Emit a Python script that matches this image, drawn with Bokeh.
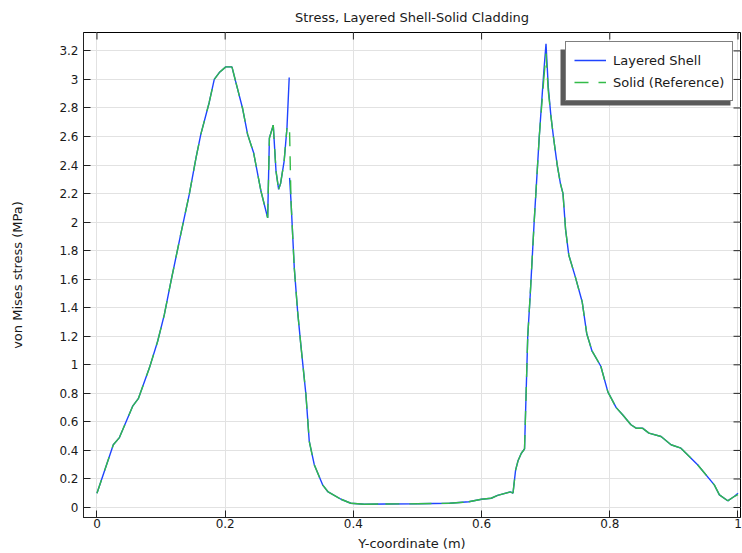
import numpy as np
from bokeh.plotting import figure
from bokeh.models import (Range1d, FixedTicker, Legend, LegendItem,
                          BoxAnnotation, ColumnDataSource)
from bokeh.embed import file_html
from bokeh.resources import INLINE

# von Mises stress along the Y-coordinate (m), in MPa
x_shell = [0.0, 0.0255, 0.035, 0.0557, 0.0645, 0.0817, 0.0947, 0.105, 0.1155, 0.13,
           0.144, 0.1545, 0.162, 0.175, 0.183, 0.1908, 0.201, 0.2106, 0.2168, 0.227,
           0.235, 0.2444, 0.2558, 0.2663, 0.269, 0.275, 0.2793, 0.2834, 0.2864, 0.292,
           0.2964, 0.2999, np.nan,
           0.3005, 0.3027, 0.3078, 0.313, 0.318, 0.326, 0.3312, 0.339, 0.352, 0.36,
           0.3807, 0.396, 0.417, 0.45, 0.5, 0.55, 0.58, 0.6, 0.615, 0.625, 0.645,
           0.649, 0.653, 0.657, 0.662, 0.667, 0.672, 0.676, 0.682, 0.69, 0.697, 0.7005,
           0.704, 0.708, 0.712, 0.718, 0.723, 0.727, 0.731, 0.736, 0.746, 0.757, 0.764,
           0.772, 0.786, 0.797, 0.81, 0.82, 0.833, 0.841, 0.851, 0.861, 0.88, 0.8955,
           0.911, 0.937, 0.963, 0.971, 0.984, 0.994, 1.0]
y_shell = [0.10, 0.44, 0.49, 0.71, 0.763, 0.977, 1.165, 1.35, 1.586, 1.90,
           2.194, 2.451, 2.615, 2.837, 3.0, 3.048, 3.088, 3.088, 2.978, 2.80,
           2.615, 2.486, 2.218, 2.03, 2.59, 2.68, 2.358, 2.23, 2.27, 2.428,
           2.66, 3.013, np.nan,
           2.31, 2.147, 1.68, 1.375, 1.142, 0.79, 0.463, 0.30, 0.159, 0.112,
           0.058, 0.030, 0.023, 0.025, 0.026, 0.030, 0.040, 0.058, 0.065, 0.085, 0.11,
           0.10, 0.26, 0.33, 0.38, 0.41, 1.20, 1.50, 2.00, 2.60, 3.05, 3.25,
           2.95, 2.75, 2.60, 2.40, 2.27, 2.20, 1.95, 1.77, 1.62, 1.44, 1.22,
           1.10, 0.99, 0.81, 0.70, 0.65, 0.58, 0.556, 0.556, 0.521, 0.498, 0.44,
           0.416, 0.30, 0.159, 0.089, 0.047, 0.077, 0.10]

x_solid = [0.0, 0.0255, 0.035, 0.0557, 0.0645, 0.0817, 0.0947, 0.105, 0.1155, 0.13,
           0.144, 0.1545, 0.162, 0.175, 0.183, 0.1908, 0.201, 0.2106, 0.2168, 0.227,
           0.235, 0.2444, 0.2558, 0.2663, 0.269, 0.275, 0.2793, 0.2834, 0.2864, 0.292,
           0.2964, np.nan,
           0.3005, 0.3027, 0.3078, 0.313, 0.318, 0.326, 0.3312, 0.339, 0.352, 0.36,
           0.3807, 0.396, 0.417, 0.45, 0.5, 0.55, 0.58, 0.6, 0.615, 0.625, 0.645,
           0.649, 0.653, 0.657, 0.662, 0.667, 0.672, 0.676, 0.682, 0.69, 0.697, 0.7005,
           0.704, 0.708, 0.712, 0.718, 0.723, 0.727, 0.731, 0.736, 0.746, 0.757, 0.764,
           0.772, 0.786, 0.797, 0.81, 0.82, 0.833, 0.841, 0.851, 0.861, 0.88, 0.8955,
           0.911, 0.937, 0.963, 0.971, 0.984, 0.994, 1.0]
y_solid = [0.10, 0.44, 0.49, 0.71, 0.763, 0.977, 1.165, 1.35, 1.586, 1.90,
           2.194, 2.451, 2.615, 2.837, 3.0, 3.048, 3.088, 3.088, 2.978, 2.80,
           2.615, 2.486, 2.218, 2.03, 2.59, 2.68, 2.358, 2.23, 2.27, 2.428,
           2.66, np.nan,
           2.63, 2.147, 1.68, 1.375, 1.142, 0.79, 0.463, 0.30, 0.159, 0.112,
           0.058, 0.030, 0.023, 0.025, 0.026, 0.030, 0.040, 0.058, 0.065, 0.085, 0.11,
           0.10, 0.26, 0.33, 0.38, 0.41, 1.20, 1.50, 2.00, 2.60, 3.00, 3.18,
           2.92, 2.75, 2.60, 2.40, 2.27, 2.20, 1.95, 1.77, 1.62, 1.44, 1.22,
           1.10, 0.99, 0.81, 0.70, 0.65, 0.58, 0.556, 0.556, 0.521, 0.498, 0.44,
           0.416, 0.30, 0.159, 0.089, 0.047, 0.077, 0.09]

x_ticks = [0.0, 0.2, 0.4, 0.6, 0.8, 1.0]
x_tick_labels = ["0", "0.2", "0.4", "0.6", "0.8", "1"]
y_ticks = [0.0, 0.2, 0.4, 0.6, 0.8, 1.0, 1.2, 1.4, 1.6, 1.8, 2.0, 2.2, 2.4, 2.6,
           2.8, 3.0, 3.2]
y_tick_labels = ["0", "0.2", "0.4", "0.6", "0.8", "1", "1.2", "1.4", "1.6", "1.8",
                 "2", "2.2", "2.4", "2.6", "2.8", "3", "3.2"]

FONT = "DejaVu Sans"
TEXT = "#1a1a1a"
AXIS = "#222222"
BLUE = "#1f44ff"
GREEN = "#33bb48"
TICK_LEN = 7

W, H = 742, 553
F_LEFT, F_RIGHT, F_TOP, F_BOTTOM = 83, 740, 32, 517
X0, X1 = -0.021, 1.0039
Y0, Y1 = -0.070, 3.329

p = figure(width=W, height=H, output_backend="svg", toolbar_location=None,
           x_range=Range1d(X0, X1), y_range=Range1d(Y0, Y1),
           min_border_left=F_LEFT, min_border_right=W - F_RIGHT,
           min_border_top=F_TOP, min_border_bottom=H - F_BOTTOM,
           title="Stress, Layered Shell-Solid Cladding")

p.title.align = "center"
p.title.vertical_align = "top"
p.title.text_font = FONT
p.title.text_font_size = "13px"
p.title.text_font_style = "normal"
p.title.text_color = TEXT
p.title.standoff = 11

p.outline_line_color = "black"
p.outline_line_width = 1

xt = FixedTicker(ticks=x_ticks)
yt = FixedTicker(ticks=y_ticks)

p.xgrid.ticker = xt
p.ygrid.ticker = yt
for g in (p.xgrid, p.ygrid):
    g.grid_line_color = "#e2e2e2"
    g.grid_line_width = 1


def style_axis(ax, ticker, ticks, labels):
    ax.ticker = ticker
    ax.axis_line_color = AXIS
    ax.major_tick_line_color = AXIS
    ax.major_tick_in = TICK_LEN
    ax.major_tick_out = 0
    ax.minor_tick_in = 0
    ax.minor_tick_out = 0
    ax.major_label_overrides = {t: s for t, s in zip(ticks, labels)}
    ax.major_label_text_font = FONT
    ax.major_label_text_font_size = "12px"
    ax.major_label_text_color = TEXT
    ax.axis_label_text_font = FONT
    ax.axis_label_text_font_style = "normal"
    ax.axis_label_text_color = TEXT
    ax.axis_label_text_font_size = "13px"


xa = p.xaxis[0]
ya = p.yaxis[0]
style_axis(xa, xt, x_ticks, x_tick_labels)
style_axis(ya, yt, y_ticks, y_tick_labels)
xa.axis_label = "Y-coordinate (m)"
ya.axis_label = "von Mises stress (MPa)"
xa.major_label_standoff = 1
xa.axis_label_standoff = 5
ya.major_label_standoff = 5
ya.axis_label_standoff = 31


def px_x(px):
    return X0 + (px - F_LEFT) / (F_RIGHT - F_LEFT) * (X1 - X0)


def px_y(py):
    return Y1 - (py - F_TOP) / (F_BOTTOM - F_TOP) * (Y1 - Y0)


# inward tick marks along the top and right edges of the frame box
top_y_in = px_y(F_TOP + TICK_LEN)
right_x_in = px_x(F_RIGHT - TICK_LEN)
p.segment(x0=x_ticks, y0=[Y1] * len(x_ticks), x1=x_ticks, y1=[top_y_in] * len(x_ticks),
          line_color=AXIS, line_width=1)
p.segment(x0=[X1] * len(y_ticks), y0=y_ticks, x1=[right_x_in] * len(y_ticks), y1=y_ticks,
          line_color=AXIS, line_width=1)

# Layered shell result: continuous line with a break at the shell/solid junction
shell_src = ColumnDataSource(data=dict(x=x_shell, y=y_shell))
r_shell = p.line("x", "y", source=shell_src, line_color=BLUE, line_width=1.4)

# Solid reference: dashed; each segment restarts its dash pattern
xs_seg, ys_seg = [], []
xs_arr = np.array(x_solid, dtype=float)
ys_arr = np.array(y_solid, dtype=float)
for i in range(len(xs_arr) - 1):
    if np.isnan(xs_arr[i]) or np.isnan(xs_arr[i + 1]):
        continue
    xs_seg.append([xs_arr[i], xs_arr[i + 1]])
    ys_seg.append([ys_arr[i], ys_arr[i + 1]])
solid_src = ColumnDataSource(data=dict(xs=xs_seg, ys=ys_seg))
r_solid = p.multi_line("xs", "ys", source=solid_src, line_color=GREEN,
                       line_width=1.4, line_dash="14 10")

# drop shadow behind the legend box
shadow = BoxAnnotation(left=px_x(560), right=px_x(730), top=px_y(49), bottom=px_y(105),
                       fill_color="#5a5a5a", fill_alpha=1.0, line_color=None)
p.add_layout(shadow)

legend = Legend(items=[LegendItem(label="Layered Shell", renderers=[r_shell]),
                       LegendItem(label="Solid (Reference)", renderers=[r_solid])],
                location=(565 - F_LEFT, F_BOTTOM - 101))
legend.border_line_color = "black"
legend.border_line_width = 1
legend.background_fill_color = "white"
legend.background_fill_alpha = 1.0
legend.label_text_font = FONT
legend.label_text_font_size = "13px"
legend.label_text_color = TEXT
legend.glyph_width = 32
legend.glyph_height = 20
legend.label_standoff = 7
legend.padding = 8
legend.spacing = 2
legend.margin = 0
p.add_layout(legend)

open("out.html", "w").write(file_html(p, INLINE))
